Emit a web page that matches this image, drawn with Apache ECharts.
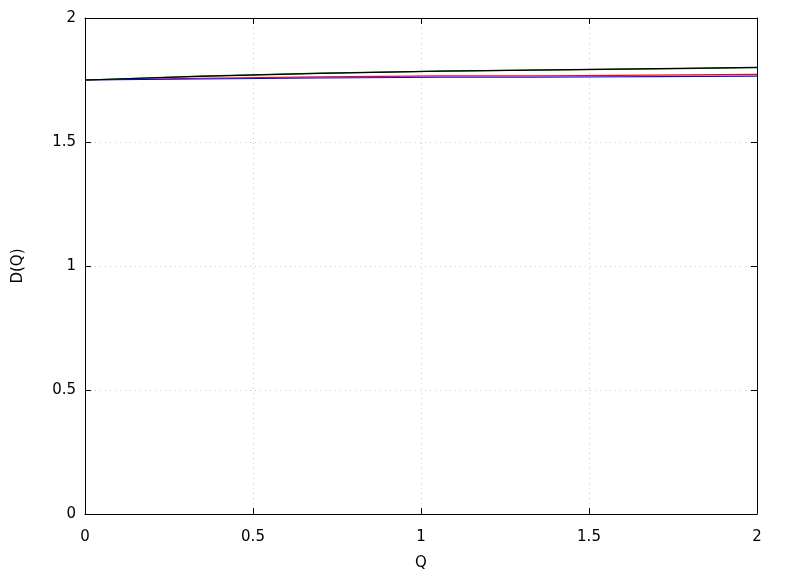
<!DOCTYPE html>
<html>
<head>
<meta charset="utf-8">
<script src="https://cdn.jsdelivr.net/npm/echarts@6/dist/echarts.min.js"></script>
<style>html,body{margin:0;padding:0;background:#fff;}#c{width:788px;height:576px;}</style>
</head>
<body>
<div id="c"></div>
<script>
var xTicks = [0, 0.5, 1, 1.5, 2];
var yTicks = [0, 0.5, 1, 1.5, 2];
var blackQ = [0, 0.34, 0.7, 1.06, 1.77, 2];
var blackD = [1.75, 1.765, 1.777, 1.786, 1.797, 1.801];
var greenQ = [0, 0.34, 0.7, 1.06, 1.77, 2];
var greenD = [1.75, 1.766, 1.778, 1.786, 1.796, 1.800];
var redQ = [0, 0.34, 0.7, 1.06, 1.38, 1.385, 2];
var redD = [1.75, 1.757, 1.763, 1.767, 1.767, 1.773, 1.773];
var blueQ = [0, 0.34, 0.7, 1.06, 1.315, 1.32, 2];
var blueD = [1.75, 1.754, 1.758, 1.761, 1.761, 1.766, 1.766];

function pairs(q, d) { return q.map(function (v, i) { return [v, d[i]]; }); }

var font = 'DejaVu Sans';
var chart = echarts.init(document.getElementById('c'), null, {renderer: 'canvas'});
var axisCommon = {
  type: 'value', min: 0, max: 2, interval: 0.5,
  axisLine: {show: true, onZero: false, lineStyle: {color: '#000', width: 1}},
  axisTick: {show: true, inside: true, length: 6, lineStyle: {color: '#000'}}
};
chart.setOption({
  animation: false,
  backgroundColor: '#fff',
  grid: {left: 85, top: 18, right: 31, bottom: 62, containLabel: false},
  xAxis: [
    Object.assign({}, axisCommon, {
      position: 'bottom', name: 'Q', nameLocation: 'middle', nameGap: 42,
      nameTextStyle: {fontFamily: font, fontSize: 15, color: '#000'},
      axisLabel: {fontFamily: font, fontSize: 15, color: '#000', margin: 16},
      splitLine: {show: true, lineStyle: {color: '#c8c8c8', type: [1, 4], width: 1}}
    }),
    Object.assign({}, axisCommon, {
      position: 'top', axisLabel: {show: false}, splitLine: {show: false}
    })
  ],
  yAxis: [
    Object.assign({}, axisCommon, {
      position: 'left', name: 'D(Q)', nameLocation: 'middle', nameGap: 59,
      nameTextStyle: {fontFamily: font, fontSize: 15, color: '#000'},
      axisLabel: {fontFamily: font, fontSize: 15, color: '#000', margin: 9},
      splitLine: {show: true, lineStyle: {color: '#c8c8c8', type: [1, 4], width: 1}}
    }),
    Object.assign({}, axisCommon, {
      position: 'right', axisLabel: {show: false}, splitLine: {show: false}
    })
  ],
  series: [
    {type: 'line', data: pairs(redQ, redD), showSymbol: false, lineStyle: {color: '#ff0000', width: 1.2}, itemStyle: {color: '#ff0000'}},
    {type: 'line', data: pairs(blueQ, blueD), showSymbol: false, lineStyle: {color: '#0000ff', width: 1.2}, itemStyle: {color: '#0000ff'}},
    {type: 'line', data: pairs(greenQ, greenD), showSymbol: false, lineStyle: {color: '#008000', width: 1.2}, itemStyle: {color: '#008000'}},
    {type: 'line', data: pairs(blackQ, blackD), showSymbol: false, lineStyle: {color: '#000000', width: 1.2}, itemStyle: {color: '#000000'}}
  ]
});
</script>
</body>
</html>
